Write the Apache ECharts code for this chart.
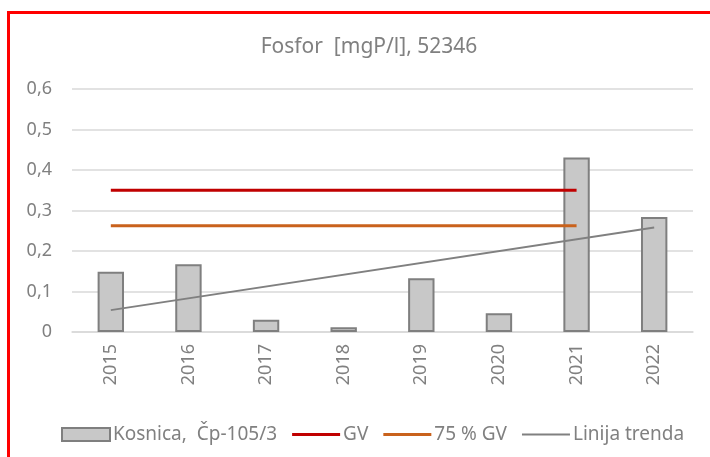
<!DOCTYPE html>
<html>
<head>
<meta charset="utf-8">
<script src="https://cdn.jsdelivr.net/npm/echarts@6/dist/echarts.min.js"></script>
<style>
    html, body { margin: 0; padding: 0; background: #fff; }
    #chart { width: 710px; height: 457px; }
</style>
</head>
<body>
<div id="chart"></div>
<script>
// podaci očitani sa slike
var years = ['2015', '2016', '2017', '2018', '2019', '2020', '2021', '2022'];
var kosnica = [0.149, 0.167, 0.030, 0.012, 0.133, 0.046, 0.431, 0.284];
var gv = [0.35, 0.35, 0.35, 0.35, 0.35, 0.35, 0.35, '-'];
var gv75 = [0.2625, 0.2625, 0.2625, 0.2625, 0.2625, 0.2625, 0.2625, '-'];
// linija trenda: samo krajnje točke
var trend = [0.054, '-', '-', '-', '-', '-', '-', 0.258];
var yTicks = [0, 0.1, 0.2, 0.3, 0.4, 0.5, 0.6];

var font = 'Noto Sans';
var textColor = '#808080';

// tanka crta za legendu
var lineIcon3 = 'path://M0,0 H48 V3 H0 Z';
var lineIcon2 = 'path://M0,0 H48 V2 H0 Z';

var chart = echarts.init(document.getElementById('chart'));

var option = {
    animation: false,
    textStyle: {fontFamily: font},
    graphic: [
        {
            type: 'rect',
            shape: {x: 8.5, y: 12.5, width: 900, height: 700},
            style: {fill: 'none', stroke: '#ff0000', lineWidth: 3}
        }
    ],
    title: {
        text: 'Fosfor  [mgP/l], 52346',
        left: 364,
        textAlign: 'center',
        top: 32,
        textStyle: {
            fontFamily: font,
            fontSize: 21,
            fontWeight: 'normal',
            color: textColor
        }
    },
    legend: {
        data: [
            {name: 'Kosnica,  Čp-105/3', icon: 'rect'},
            {name: 'GV', icon: lineIcon3},
            {name: '75 % GV', icon: lineIcon3},
            {name: 'Linija trenda', icon: lineIcon2}
        ],
        left: 56,
        top: 420,
        itemWidth: 48,
        itemHeight: 13,
        itemGap: 15,
        selectedMode: false,
        textStyle: {fontFamily: font, fontSize: 19, color: textColor, padding: [0, 0, 0, -2]}
    },
    grid: {
        left: 72,
        right: 17,
        top: 89,
        bottom: 125
    },
    xAxis: {
        type: 'category',
        data: years,
        axisLine: {show: true, lineStyle: {color: '#d9d9d9', width: 1.5}},
        axisTick: {show: false},
        axisLabel: {
            rotate: 90,
            margin: 12,
            fontFamily: font,
            fontSize: 18,
            color: textColor
        }
    },
    yAxis: {
        type: 'value',
        min: yTicks[0],
        max: yTicks[yTicks.length - 1],
        interval: 0.1,
        axisLine: {show: false},
        axisTick: {show: false},
        splitLine: {lineStyle: {color: '#d9d9d9', width: 1.5}},
        axisLabel: {
            margin: 20,
            fontFamily: font,
            fontSize: 18,
            color: textColor,
            formatter: function (v) {
                return String(Math.round(v * 10) / 10).replace('.', ',');
            }
        }
    },
    series: [
        {
            name: 'Kosnica,  Čp-105/3',
            type: 'bar',
            data: kosnica,
            barWidth: '34%',
            itemStyle: {color: '#c8c8c8', borderColor: '#7f7f7f', borderWidth: 2}
        },
        {
            name: 'GV',
            type: 'line',
            data: gv,
            symbol: 'none',
            lineStyle: {color: '#c00000', width: 3},
            itemStyle: {color: '#c00000'}
        },
        {
            name: '75 % GV',
            type: 'line',
            data: gv75,
            symbol: 'none',
            lineStyle: {color: '#c9621c', width: 3},
            itemStyle: {color: '#c9621c'}
        },
        {
            name: 'Linija trenda',
            type: 'line',
            data: trend,
            connectNulls: true,
            symbol: 'none',
            lineStyle: {color: '#808080', width: 2},
            itemStyle: {color: '#808080'}
        }
    ]
};

chart.setOption(option);
</script>
</body>
</html>
